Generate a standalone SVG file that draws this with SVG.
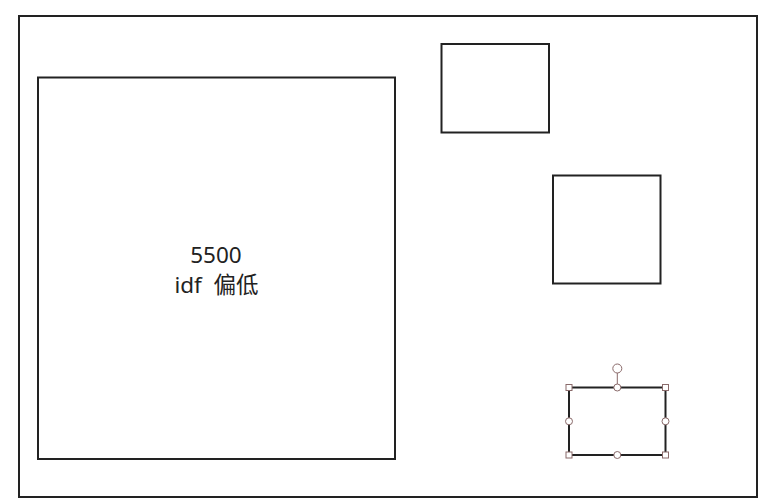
<svg xmlns="http://www.w3.org/2000/svg" width="774" height="501" viewBox="0 0 774 501">
<style>
.box{fill:#ffffff;stroke:#222222;stroke-width:2}
.lbl{font-family:"Noto Sans","Noto Sans CJK SC",sans-serif;font-size:22.5px;fill:#222222;text-anchor:middle}
.h{fill:#ffffff;stroke:#8a6a6a;stroke-width:1}
</style>
<rect width="774" height="501" fill="#ffffff"/>
<g id="frame"><rect class="box" x="19" y="16" width="738" height="481"/></g>
<g id="node-5500">
<rect class="box" x="38" y="77.5" width="357" height="381.5"/>
<text class="lbl" x="216" y="263">5500</text>
<text class="lbl" x="216.5" y="293" xml:space="preserve">idf  偏低</text>
</g>
<g id="node-a"><rect class="box" x="441.5" y="44" width="107.5" height="88.5"/></g>
<g id="node-b"><rect class="box" x="553" y="175.5" width="107.5" height="108"/></g>
<g id="node-selected">
<rect class="box" x="569" y="387.5" width="96.5" height="67.5"/>
<line x1="617.3" y1="373" x2="617.3" y2="387.5" stroke="#8a6a6a" stroke-width="1"/>
<circle class="h" cx="617.3" cy="368.5" r="4.5"/>
<rect class="h" x="566" y="384.5" width="6" height="6"/>
<rect class="h" x="662.5" y="384.5" width="6" height="6"/>
<rect class="h" x="566" y="452" width="6" height="6"/>
<rect class="h" x="662.5" y="452" width="6" height="6"/>
<circle class="h" cx="617.3" cy="387.5" r="3.5"/>
<circle class="h" cx="617.3" cy="455" r="3.5"/>
<circle class="h" cx="569" cy="421.3" r="3.5"/>
<circle class="h" cx="665.5" cy="421.3" r="3.5"/>
</g>
<g id="connectors"></g>
</svg>
